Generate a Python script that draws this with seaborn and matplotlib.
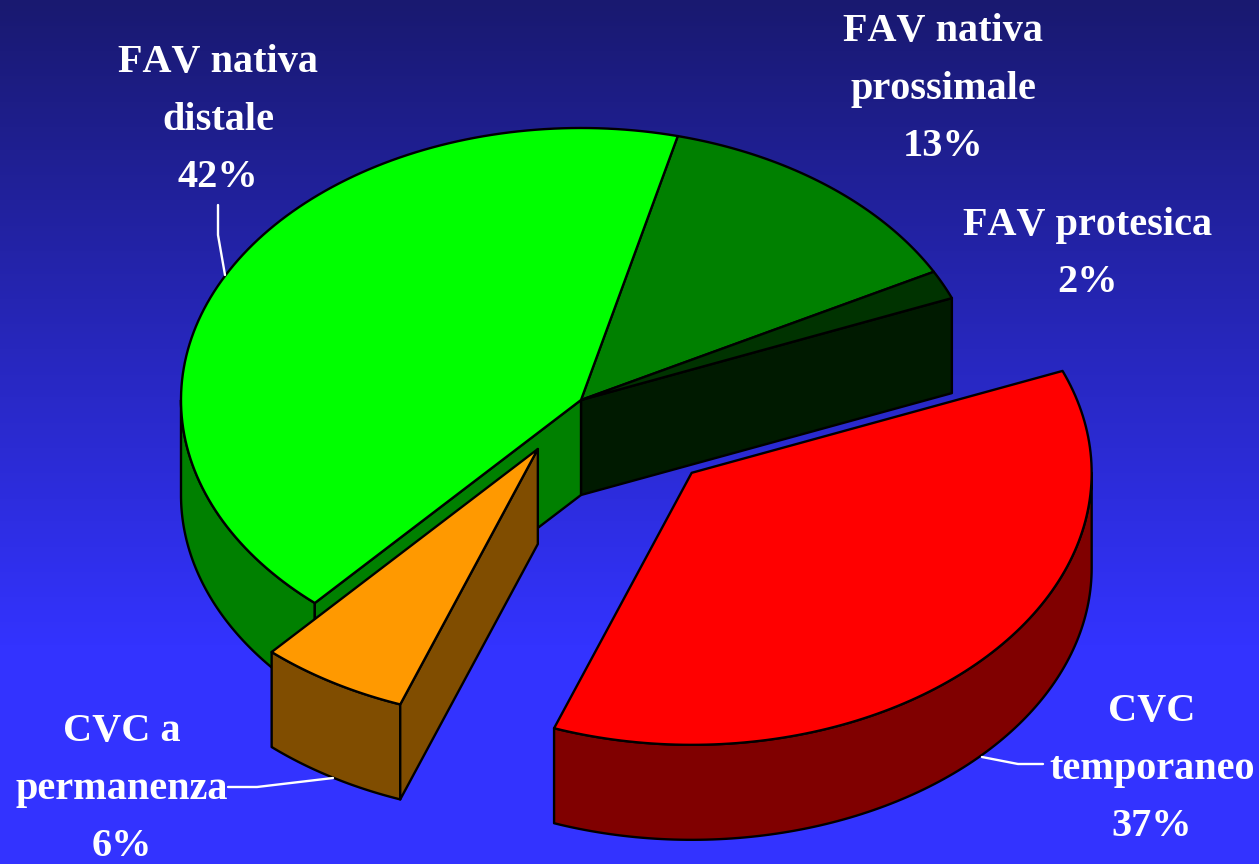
import numpy as np
import matplotlib
matplotlib.use("Agg")
import matplotlib.pyplot as plt
import matplotlib.colors as mcolors
import seaborn as sns

# slices go clockwise from the start angle
labels = ["FAV nativa\nprossimale", "FAV protesica", "CVC\ntemporaneo", "CVC a\npermanenza", "FAV nativa\ndistale"]
shares = [13.3, 1.7, 36.7, 6.0, 42.3]
explode = [0, 0, 0.385, 0.21, 0]
top_colors = ["#008000", "#003300", "#ff0000", "#ff9900", "#00ff00"]
side_colors = ["#004000", "#001a00", "#800000", "#804d00", "#008000"]
label_pos = [(943, 89), (1088, 254), (1152, 769), (122, 789), (218, 120)]
leaders = [
    ([218, 218, 225], [205, 235, 275]),
    ([228, 257, 333], [787, 787, 778]),
    ([982, 1018, 1043], [757, 764, 764]),
]

start_angle = 76.0
cx, cy = 581, 400
rx, ry = 400, 272
depth = 95

sns.set_theme(style="white")
plt.rcParams["font.family"] = ["Liberation Serif", "DejaVu Serif"]
plt.rcParams["text.kerning_factor"] = 6

fig = plt.figure(figsize=(12.59, 8.64), dpi=100)
ax = fig.add_axes([0, 0, 1, 1])
ax.set_xlim(0, 1259)
ax.set_ylim(864, 0)
ax.axis("off")

# background, dark navy at the top going to bright blue
steps = sns.blend_palette(["#191970", "#3333ff"], 256)
grad = np.minimum(np.linspace(0, 1, 864) / 0.75, 1)[:, None]
ax.imshow(grad, cmap=mcolors.ListedColormap(steps), extent=[0, 1259, 864, 0], aspect="auto", zorder=0)


def rim(ox, oy, a0, a1):
    t = np.radians(np.linspace(a0, a1, 120))
    return ox + rx * np.cos(t), oy - ry * np.sin(t)


def patch(xs, ys, color, z):
    ax.fill(xs, ys, facecolor=color, edgecolor="black", linewidth=1.7, joinstyle="round", zorder=z)


ends = start_angle - np.cumsum(shares) * 3.6
starts = np.r_[start_angle, ends[:-1]]
n = len(shares)

for i in range(n):
    a0, a1 = starts[i], ends[i]
    mid = np.radians((a0 + a1) / 2)
    ox = cx + explode[i] * rx * np.cos(mid)
    oy = cy - explode[i] * ry * np.sin(mid)
    base = 10 + explode[i] * 100

    # outer wall, only the part on the front of the ellipse
    for lo, hi in [(-180, 0), (-540, -360)]:
        w0, w1 = min(a0, hi), max(a1, lo)
        if w0 > w1:
            xs, ys = rim(ox, oy, w0, w1)
            patch(np.r_[xs, xs[::-1]], np.r_[ys, ys[::-1] + depth], side_colors[i], base)

    # cut faces, where the neighbouring slice does not hide them
    if np.cos(np.radians(a0)) < 0 and explode[i] != explode[i - 1]:
        ex, ey = rim(ox, oy, a0, a0)
        patch([ox, ex[0], ex[0], ox], [oy, ey[0], ey[0] + depth, oy + depth], side_colors[i], base + 1)
    if np.sin(np.radians(a1 - 90)) < 0 and explode[i] != explode[(i + 1) % n]:
        ex, ey = rim(ox, oy, a1, a1)
        patch([ox, ex[0], ex[0], ox], [oy, ey[0], ey[0] + depth, oy + depth], side_colors[i], base + 1)

    xs, ys = rim(ox, oy, a0, a1)
    patch(np.r_[ox, xs], np.r_[oy, ys], top_colors[i], base + 2)

for name, share, pos in zip(labels, shares, label_pos):
    ax.text(pos[0], pos[1], f"{name}\n{share:.0f}%", color="white", fontsize=29, fontweight="bold",
            ha="center", va="center", linespacing=1.72, zorder=60)

for xs, ys in leaders:
    ax.plot(xs, ys, color="white", linewidth=1.7, zorder=50)

fig.savefig("out.png", dpi=100)
